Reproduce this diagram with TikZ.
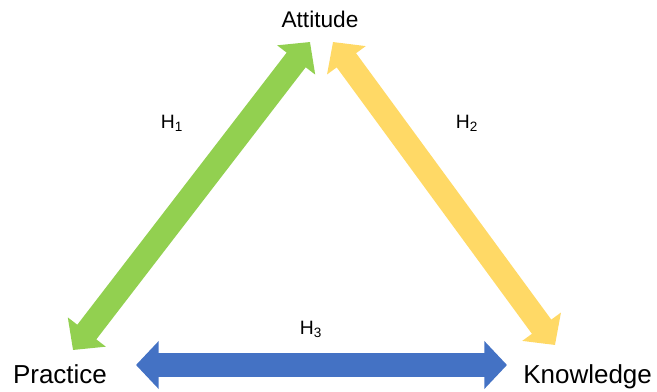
\documentclass[tikz,border=0pt]{standalone}
\usepackage{fontspec}
\setmainfont{Liberation Sans}
\usetikzlibrary{arrows.meta,calc}
\definecolor{hgreen}{HTML}{92D050}
\definecolor{hyellow}{HTML}{FFD966}
\definecolor{hblue}{HTML}{4472C4}

\begin{document}
\begin{tikzpicture}[x=0.75pt,y=-0.75pt,
  lbl/.style={inner sep=0pt,font=\fontsize{19.5}{22}\selectfont},
  hyp/.style={inner sep=0pt,font=\fontsize{14.5}{16}\selectfont},
  dbl/.style={line width=18pt,
    arrows={Triangle[length=17pt,width=35pt]-Triangle[length=17pt,width=35pt]}}]
  \useasboundingbox (0,0) rectangle (657,392);
  % the three constructs
  \node[lbl,anchor=base,font=\fontsize{17}{20}\selectfont] (att) at (320,28) {Attitude};
  \node[lbl,anchor=base] (prac) at (60,383) {Practice};
  \node[lbl,anchor=base west] (know) at (523,383) {Knowledge};
  % two-way links
  \draw[dbl,hgreen] ($(att.base)+(-10,14)$) -- ($(prac.base)+(13,-33)$);
  \draw[dbl,hyellow] ($(att.base)+(13,14)$) -- ($(know.base west)+(32,-38)$);
  \draw[dbl,hblue] ($(prac.base)+(76,-18)$) -- ($(know.base west)+(-16,-18)$);
  % hypotheses
  \node[hyp] (h1) at (172,123) {H\textsubscript{1}};
  \node[hyp] (h2) at (467,123) {H\textsubscript{2}};
  \node[hyp] (h3) at (311,329) {H\textsubscript{3}};
\end{tikzpicture}
\end{document}
